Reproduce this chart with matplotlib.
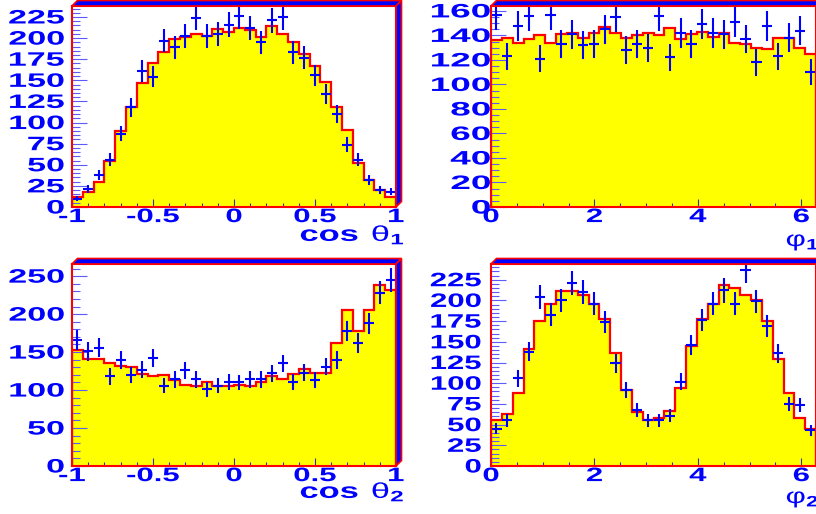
import numpy as np
import matplotlib
matplotlib.use("Agg")
import matplotlib.pyplot as plt
from matplotlib.patheffects import AbstractPathEffect
from matplotlib.transforms import Affine2D
from matplotlib.patches import Polygon
from matplotlib.ticker import MultipleLocator

plt.rcParams['font.family'] = ['Liberation Sans', 'DejaVu Sans']
plt.rcParams['font.weight'] = 'bold'
plt.rcParams['mathtext.fontset'] = 'custom'
plt.rcParams['mathtext.rm'] = 'Liberation Sans'
plt.rcParams['mathtext.bf'] = 'Liberation Sans:bold'
plt.rcParams['mathtext.default'] = 'regular'
plt.rcParams['axes.unicode_minus'] = False

# ---------------- data (30 bins each) ----------------
cos_theta1_mc = [12, 18, 30, 55, 90, 119, 147, 171, 183, 199, 201, 205, 203, 211, 207,
                 212, 209, 201, 214, 205, 195, 181, 167, 148, 118, 91, 52, 32, 20, 12]
cos_theta1_data = [10, 21, 38, 56, 87, 118, 161, 154, 197, 189, 203, 224, 203, 205, 216,
                   226, 212, 195, 221, 225, 183, 177, 156, 134, 110, 74, 56, 32, 20, 18]

phi1_mc = [136, 138, 134, 137, 140, 134, 141, 142, 138, 142, 147, 142, 138, 140, 142,
           140, 146, 137, 141, 143, 139, 142, 134, 133, 130, 129, 138, 138, 130, 125]
phi1_data = [157, 123, 148, 156, 121, 157, 133, 141, 132, 133, 145, 155, 128, 133, 130,
             156, 122, 142, 133, 149, 142, 141, 151, 137, 118, 148, 123, 138, 144, 110]

cos_theta2_mc = [153, 141, 141, 136, 132, 131, 121, 119, 120, 113, 107, 105, 110, 106, 106,
                 107, 106, 111, 119, 115, 121, 128, 122, 122, 162, 205, 178, 205, 239, 232]
cos_theta2_data = [166, 151, 156, 118, 139, 120, 127, 142, 106, 114, 126, 114, 101, 106, 111,
                   110, 114, 114, 122, 135, 111, 123, 113, 131, 140, 178, 162, 188, 228, 245]

phi2_mc = [55, 63, 88, 141, 175, 196, 211, 211, 206, 196, 178, 137, 92, 65, 56,
           58, 67, 94, 145, 177, 196, 219, 215, 206, 200, 175, 129, 88, 58, 45]
phi2_data = [45, 55, 106, 138, 204, 183, 200, 221, 210, 196, 174, 124, 92, 68, 55,
             55, 61, 102, 146, 176, 196, 212, 196, 237, 199, 169, 136, 75, 74, 43]

cos_ticks = [-1, -0.5, 0, 0.5, 1]
cos_ticklabels = ['-1', '-0.5', '0', '0.5', '1']
phi_ticks = [0, 2, 4, 6]
phi_ticklabels = ['0', '2', '4', '6']

title_cos1 = r'$\mathbf{cos}\ θ_{\mathbf{1}}$'
title_phi1 = r'$φ_{\mathbf{1}}$'
title_cos2 = r'$\mathbf{cos}\ θ_{\mathbf{2}}$'
title_phi2 = r'$φ_{\mathbf{2}}$'


class Stretch(AbstractPathEffect):
    """Widen glyphs horizontally about an anchor (0=left, 0.5=centre, 1=right)."""
    def __init__(self, sx, anchor=0.5):
        super().__init__()
        self.sx = sx
        self.anchor = anchor

    def draw_path(self, renderer, gc, tpath, affine, rgbFace=None):
        if len(tpath.vertices) == 0:
            return
        ext = tpath.get_extents()
        xa = ext.x0 + self.anchor * ext.width
        t = Affine2D().translate(-xa, 0).scale(self.sx, 1).translate(xa, 0) + affine
        renderer.draw_path(gc, tpath, t, rgbFace)


W, H = 816, 514
fig = plt.figure(figsize=(W / 100, H / 100), dpi=100)
fig.patch.set_facecolor('white')

BLUE = '#0000ff'
RED = '#ff0000'
YEL = '#ffff00'
TICKC = '#5a5aff'

panels = [
    dict(mc=cos_theta1_mc, data=cos_theta1_data, xr=(-1, 1), ylim=238, ymaj=25, ymin=5,
         xt=cos_ticks, xl=cos_ticklabels, xmin=0.1, box=(72, 6, 396, 207),
         title=title_cos1, tx=300, tb=241, tsx=1.6, ys=1.75, ypad=5.5),
    dict(mc=phi1_mc, data=phi1_data, xr=(0, 2 * np.pi), ylim=164, ymaj=20, ymin=5,
         xt=phi_ticks, xl=phi_ticklabels, xmin=0.5, box=(491, 6, 816, 207),
         title=title_phi1, tx=786, tb=246, tsx=1.45, ys=1.9, ypad=0.3),
    dict(mc=cos_theta2_mc, data=cos_theta2_data, xr=(-1, 1), ylim=266, ymaj=50, ymin=10,
         xt=cos_ticks, xl=cos_ticklabels, xmin=0.1, box=(72, 264, 396, 466),
         title=title_cos2, tx=300, tb=498, tsx=1.6, ys=1.75, ypad=5.5),
    dict(mc=phi2_mc, data=phi2_data, xr=(0, 2 * np.pi), ylim=244, ymaj=25, ymin=5,
         xt=phi_ticks, xl=phi_ticklabels, xmin=0.5, box=(491, 264, 816, 466),
         title=title_phi2, tx=786, tb=503, tsx=1.45, ys=1.6, ypad=7.0),
]

for p in panels:
    x0, y0, x1, y1 = p['box']  # pixels, y from top
    ax = fig.add_axes([x0 / W, 1 - y1 / H, (x1 - x0) / W, (y1 - y0) / H])
    mc = np.array(p['mc'], float)
    dat = np.array(p['data'], float)
    edges = np.linspace(p['xr'][0], p['xr'][1], len(mc) + 1)
    centers = 0.5 * (edges[:-1] + edges[1:])
    bw = edges[1] - edges[0]

    ax.stairs(mc, edges, fill=True, color=YEL, zorder=1)
    ax.stairs(mc, edges, color=RED, lw=1.6, zorder=2)
    ax.errorbar(centers, dat, yerr=np.sqrt(dat), xerr=0.47 * bw, fmt='none',
                ecolor=BLUE, elinewidth=1.5, capsize=0, zorder=3)

    ax.set_xlim(*p['xr'])
    ax.set_ylim(0, p['ylim'])
    for s in ax.spines.values():
        s.set_color(RED)
        s.set_linewidth(1.5)
        s.set_zorder(4)

    ax.set_xticks(p['xt'])
    ax.set_xticklabels(p['xl'])
    ax.xaxis.set_minor_locator(MultipleLocator(p['xmin']))
    ax.yaxis.set_major_locator(MultipleLocator(p['ymaj']))
    ax.yaxis.set_minor_locator(MultipleLocator(p['ymin']))
    ax.tick_params(axis='y', which='major', direction='in', length=10.8, width=0.8,
                   color=TICKC, labelcolor=BLUE, labelsize=14, pad=p['ypad'])
    ax.tick_params(axis='y', which='minor', direction='in', length=5.8, width=0.8, color=TICKC)
    ax.tick_params(axis='x', which='major', direction='in', length=5.8, width=0.8,
                   color='#3030c0', labelcolor=BLUE, labelsize=14, pad=1.5)
    ax.tick_params(axis='x', which='minor', direction='in', length=2.9, width=0.8, color='#3030c0')
    ax.tick_params(top=False, right=False, which='both')

    for lab in ax.get_yticklabels():
        lab.set_fontweight('bold')
        lab.set_path_effects([Stretch(p['ys'], 1.0)])
    for lab in ax.get_xticklabels():
        lab.set_fontweight('bold')
        lab.set_path_effects([Stretch(1.6, 0.5)])

    # axis title (bold text, thin Greek letter)
    fig.text(p['tx'] / W, 1 - p['tb'] / H, p['title'], color=BLUE, fontsize=15.5,
             fontweight='normal', ha='left', va='baseline',
             path_effects=[Stretch(p['tsx'], 0.0)])

    # 3D-style frame depth bands (top and right)
    d = 5.5
    fx0, fx1 = x0 / W, x1 / W
    fy0, fy1 = 1 - y1 / H, 1 - y0 / H
    dx, dy = d / W, d / H
    top = Polygon([(fx0, fy1), (fx0 + dx, fy1 + dy), (fx1 + dx, fy1 + dy), (fx1, fy1)],
                  closed=True, transform=fig.transFigure, facecolor=BLUE,
                  edgecolor=RED, lw=1.2, clip_on=False, zorder=10)
    right = Polygon([(fx1, fy0), (fx1 + dx, fy0 + dy), (fx1 + dx, fy1 + dy), (fx1, fy1)],
                    closed=True, transform=fig.transFigure, facecolor=BLUE,
                    edgecolor=RED, lw=1.2, clip_on=False, zorder=10)
    fig.add_artist(top)
    fig.add_artist(right)

fig.savefig('out.png', dpi=100, facecolor='white')
